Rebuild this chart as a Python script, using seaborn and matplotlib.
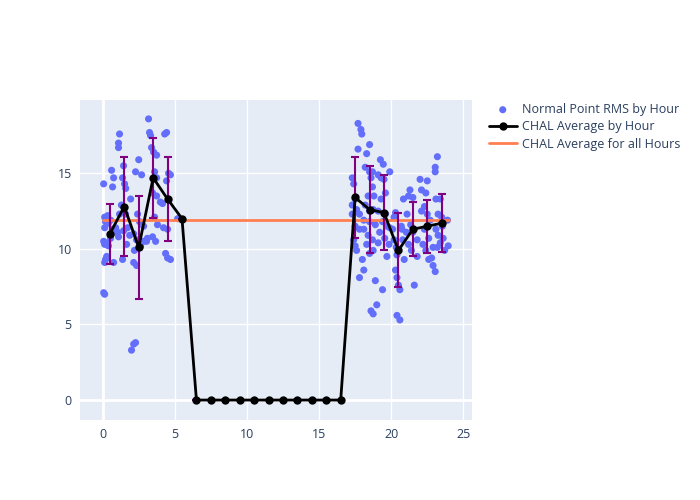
import matplotlib
matplotlib.use("Agg")
import matplotlib.pyplot as plt
import seaborn as sns
import pandas as pd
import numpy as np

# ---- data ----
pt_hour = [
    0.07, 0.07, 0.14, 0.14, 0.35, 0.2, 0.4, 0.14, 0.07, 0.14, 0.35, 0.4, 0.28, 0.2, 0.14,
    0.62, 0.76, 0.69, 0.55, 0.69, 0.76, 0.83, 0.9, 0.55,
    1.1, 1.17, 1.1, 1.45, 1.38, 1.52, 1.6, 1.3, 1.17, 1.59, 1.04, 1.1, 1.45, 1.73, 1.66,
    1.38, 1.87, 1.94,
    2.0, 2.15, 2.28, 2.15, 2.35, 2.2, 2.5, 2.63, 2.35, 2.15, 2.56, 2.28, 2.5, 2.7, 2.84,
    2.84, 2.42,
    3.18, 3.25, 3.32, 3.39, 3.53, 3.74, 3.6, 3.74, 3.46, 3.74, 3.6, 3.46, 3.1, 3.04, 3.67,
    3.8,
    4.0, 4.3, 4.43, 4.57, 4.7, 4.43, 4.15, 4.36, 4.5, 4.7, 4.22, 4.5,
    5.2,
    17.7, 17.9, 17.96, 17.7, 17.3, 17.4, 17.5, 17.3, 17.3, 17.5, 17.4, 17.5, 17.6, 17.8,
    17.8, 17.8, 17.6,
    18.1, 18.0, 18.1, 18.3, 18.5, 18.2, 18.5, 18.7, 18.6, 18.7, 18.4, 18.8, 18.2, 18.5,
    18.75, 18.1, 18.5, 18.9, 18.4, 18.7, 18.5, 18.75, 18.6, 18.75, 18.9, 19.0, 18.3,
    19.25, 19.45, 19.1, 19.3, 19.5, 19.6, 19.3, 19.1, 19.6, 19.4, 19.7, 19.2, 19.55, 19.1,
    19.85, 19.4, 19.7, 19.9, 19.9,
    20.3, 20.1, 20.2, 20.4, 20.3, 20.4, 20.5, 20.6, 20.4, 20.6, 20.8, 20.85, 20.2, 20.7,
    20.9, 20.75, 20.35,
    21.3, 21.2, 21.5, 21.1, 21.35, 21.5, 21.2, 21.4, 21.6, 21.8, 22.0, 21.8, 21.05,
    22.1, 22.5, 22.4, 22.3, 22.1, 22.5, 22.7, 22.3, 22.6, 22.2, 22.4, 22.8, 22.9, 22.6, 22.9,
    23.2, 23.05, 23.05, 23.1, 23.4, 23.25, 23.5, 23.1, 23.6, 23.4, 23.2, 23.7, 23.05, 23.55,
    23.25, 23.9, 23.95,
]
pt_rms = [
    14.3, 7.1, 7.0, 12.1, 12.2, 11.8, 11.7, 11.4, 10.5, 10.3, 10.4, 10.2, 9.5, 9.3, 9.1,
    15.2, 14.7, 14.1, 11.9, 11.3, 9.1, 11.1, 11.4, 10.7,
    17.0, 17.6, 16.7, 15.5, 14.7, 14.3, 14.0, 12.9, 12.3, 12.3, 11.1, 10.8, 11.2, 11.4, 10.3,
    9.3, 10.9, 13.3,
    3.3, 3.7, 3.8, 9.1, 8.9, 9.9, 10.1, 10.2, 10.6, 11.0, 11.8, 15.1, 15.9, 14.9, 10.5,
    11.5, 12.3,
    18.6, 17.7, 17.5, 16.7, 16.4, 16.2, 15.1, 14.7, 13.7, 13.5, 12.1, 10.8, 10.7, 10.5, 10.5,
    11.6,
    13.1, 17.6, 17.7, 15.0, 14.9, 14.5, 13.0, 9.7, 9.4, 9.3, 11.4, 11.3,
    12.0,
    18.3, 17.9, 17.6, 16.6, 14.7, 14.3, 13.3, 12.9, 12.3, 11.5, 10.6, 10.2, 9.9, 12.3,
    8.1, 11.3, 12.6,
    8.6, 9.3, 11.3, 16.3, 16.9, 15.4, 15.1, 15.1, 14.7, 14.1, 13.5, 13.5, 12.9, 12.5,
    12.6, 11.9, 11.8, 11.6, 10.9, 10.6, 9.7, 9.9, 5.9, 5.7, 7.9, 6.3, 10.3,
    15.9, 15.6, 14.9, 14.7, 14.6, 13.7, 13.3, 12.5, 12.3, 11.8, 11.5, 11.1, 10.7, 10.4,
    10.3, 7.3, 9.5, 15.1, 11.4,
    12.4, 11.3, 10.6, 9.6, 8.6, 8.1, 7.6, 7.3, 5.6, 5.3, 10.6, 13.3, 12.1, 11.5,
    9.3, 11.3, 10.1,
    13.9, 13.5, 13.4, 12.3, 11.6, 11.1, 10.3, 9.9, 7.6, 9.5, 14.6, 10.6, 11.1,
    13.9, 14.5, 13.7, 12.8, 12.5, 12.3, 11.9, 11.3, 10.7, 10.3, 9.9, 9.4, 8.9, 9.3, 10.1,
    16.1, 15.4, 15.1, 13.3, 13.3, 12.3, 12.1, 11.3, 10.7, 10.4, 10.1, 9.9, 8.5, 11.5,
    10.9, 11.9, 10.2,
]

avg_hour = [0.5, 1.5, 2.5, 3.5, 4.5, 5.5, 6.5, 7.5, 8.5, 9.5, 10.5, 11.5,
            12.5, 13.5, 14.5, 15.5, 16.5, 17.5, 18.5, 19.5, 20.5, 21.5, 22.5, 23.5]
avg_rms = [11.0, 12.8, 10.1, 14.7, 13.3, 12.0, 0, 0, 0, 0, 0, 0,
           0, 0, 0, 0, 0, 13.4, 12.6, 12.4, 9.9, 11.3, 11.5, 11.7]
avg_std = [2.0, 3.3, 3.4, 2.65, 2.8, 0, 0, 0, 0, 0, 0, 0,
           0, 0, 0, 0, 0, 2.7, 2.9, 2.5, 2.45, 1.8, 1.75, 1.9]

overall_x = [0, 24]
overall_avg = [11.9, 11.9]

x_ticks = [0, 5, 10, 15, 20, 25]
y_ticks = [0, 5, 10, 15]

# ---- plot ----
sns.set_style("white")
plt.rcParams['font.family'] = ['Open Sans', 'DejaVu Sans']

fig = plt.figure(figsize=(7, 5), dpi=100)
ax = fig.add_axes([80 / 700, 80 / 500, 392 / 700, 320 / 500])
ax.set_facecolor('#E5ECF6')
for s in ax.spines.values():
    s.set_visible(False)

pts = pd.DataFrame({'hour': pt_hour, 'rms': pt_rms})
avg = pd.DataFrame({'hour': avg_hour, 'rms': avg_rms, 'std': avg_std})
ovr = pd.DataFrame({'hour': overall_x, 'rms': overall_avg})

sns.scatterplot(data=pts, x='hour', y='rms', ax=ax, color='#636EFA', s=26,
                edgecolor='none', label='Normal Point RMS by Hour', zorder=3)
sns.lineplot(data=ovr, x='hour', y='rms', ax=ax, color='#FF7F50', linewidth=2,
             label='CHAL Average for all Hours', zorder=4)
ax.errorbar(avg['hour'], avg['rms'], yerr=avg['std'], fmt='none',
            ecolor='#800080', elinewidth=1.5, capsize=3, capthick=1.5, zorder=5)
sns.lineplot(data=avg, x='hour', y='rms', ax=ax, color='black', linewidth=2,
             marker='o', markersize=6, markeredgewidth=0,
             label='CHAL Average by Hour', zorder=6)

ax.set_xlim(-1.57, 25.6)
ax.set_ylim(-1.32, 19.85)
ax.set_xticks(x_ticks)
ax.set_yticks(y_ticks)
ax.grid(True, color='white', linewidth=1)
ax.set_axisbelow(True)
ax.axhline(0, color='white', linewidth=2, zorder=0.5)
ax.axvline(0, color='white', linewidth=2, zorder=0.5)
ax.tick_params(axis='both', length=0, labelsize=9, colors='#2a3f5f', pad=6)
ax.set_xlabel('')
ax.set_ylabel('')

h, l = ax.get_legend_handles_labels()
order = [l.index('Normal Point RMS by Hour'), l.index('CHAL Average by Hour'),
         l.index('CHAL Average for all Hours')]
leg = ax.legend([h[i] for i in order], [l[i] for i in order],
                loc='upper left', bbox_to_anchor=(484 / 700, 402 / 500),
                bbox_transform=fig.transFigure, frameon=False, fontsize=9,
                labelcolor='#2a3f5f', handlelength=2.2, handletextpad=0.4,
                borderaxespad=0, labelspacing=0.35)

fig.savefig('out.png', dpi=100)
